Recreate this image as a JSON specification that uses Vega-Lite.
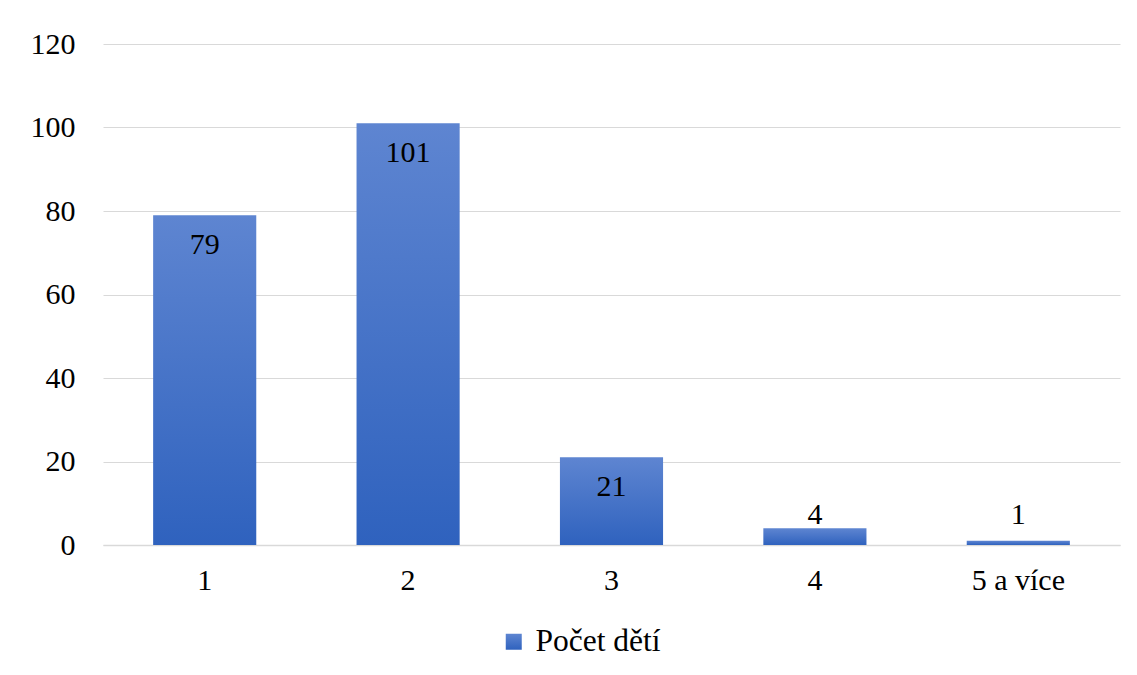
{
  "$schema": "https://vega.github.io/schema/vega-lite/v6.json",
  "autosize": "none",
  "width": 1017,
  "height": 501,
  "padding": {"left": 103, "top": 44, "right": 17, "bottom": 130},
  "background": "white",
  "config": {
    "view": {"stroke": null},
    "font": "Liberation Serif",
    "axis": {"labelFont": "Liberation Serif", "labelFontSize": 30, "labelColor": "#000000"}
  },
  "data": {
    "values": [
      {"kategorie": "1", "pocet": 79, "serie": "Počet dětí"},
      {"kategorie": "2", "pocet": 101, "serie": "Počet dětí"},
      {"kategorie": "3", "pocet": 21, "serie": "Počet dětí"},
      {"kategorie": "4", "pocet": 4, "serie": "Počet dětí"},
      {"kategorie": "5 a více", "pocet": 1, "serie": "Počet dětí"}
    ]
  },
  "encoding": {
    "x": {
      "field": "kategorie",
      "type": "nominal",
      "sort": null,
      "scale": {"paddingInner": 0.493, "paddingOuter": 0.2465},
      "axis": {
        "title": null,
        "labelAngle": 0,
        "ticks": false,
        "domainColor": "#d9d9d9",
        "domainWidth": 1.5,
        "labelPadding": 20,
        "labelBaseline": "top"
      }
    },
    "y": {
      "field": "pocet",
      "type": "quantitative",
      "scale": {"domain": [0, 120], "nice": false},
      "axis": {
        "title": null,
        "values": [0, 20, 40, 60, 80, 100, 120],
        "domain": false,
        "ticks": false,
        "gridColor": "#d9d9d9",
        "gridWidth": 1.2,
        "labelPadding": 28
      }
    }
  },
  "layer": [
    {
      "mark": {
        "type": "bar",
        "strokeWidth": 0,
        "color": {
          "gradient": "linear",
          "x1": 0, "y1": 0, "x2": 0, "y2": 1,
          "stops": [
            {"offset": 0, "color": "#5e85d1"},
            {"offset": 1, "color": "#2f62be"}
          ]
        }
      },
      "encoding": {
        "stroke": {
          "field": "serie",
          "type": "nominal",
          "scale": {"range": ["#4472c4"]},
          "legend": {
            "title": null,
            "orient": "none",
            "legendX": 395,
            "legendY": 582,
            "padding": 0,
            "symbolType": "square",
            "symbolSize": 256,
            "symbolStrokeWidth": 0,
            "labelFont": "Liberation Serif",
            "labelFontSize": 31.5,
            "labelColor": "#000000",
            "labelOffset": 6,
            "encode": {
              "symbols": {"update": {"fill": {"value": "#4472c4"}, "opacity": {"value": 1}}}
            }
          }
        }
      }
    },
    {
      "transform": [{"filter": "datum.pocet >= 10"}],
      "mark": {"type": "text", "baseline": "top", "dy": 15, "fontSize": 30, "font": "Liberation Serif", "color": "#000000"},
      "encoding": {"text": {"field": "pocet", "type": "quantitative"}}
    },
    {
      "transform": [{"filter": "datum.pocet < 10"}],
      "mark": {"type": "text", "baseline": "alphabetic", "fontSize": 30, "font": "Liberation Serif", "color": "#000000"},
      "encoding": {
        "y": {"datum": 5, "type": "quantitative"},
        "text": {"field": "pocet", "type": "quantitative"}
      }
    }
  ]
}
